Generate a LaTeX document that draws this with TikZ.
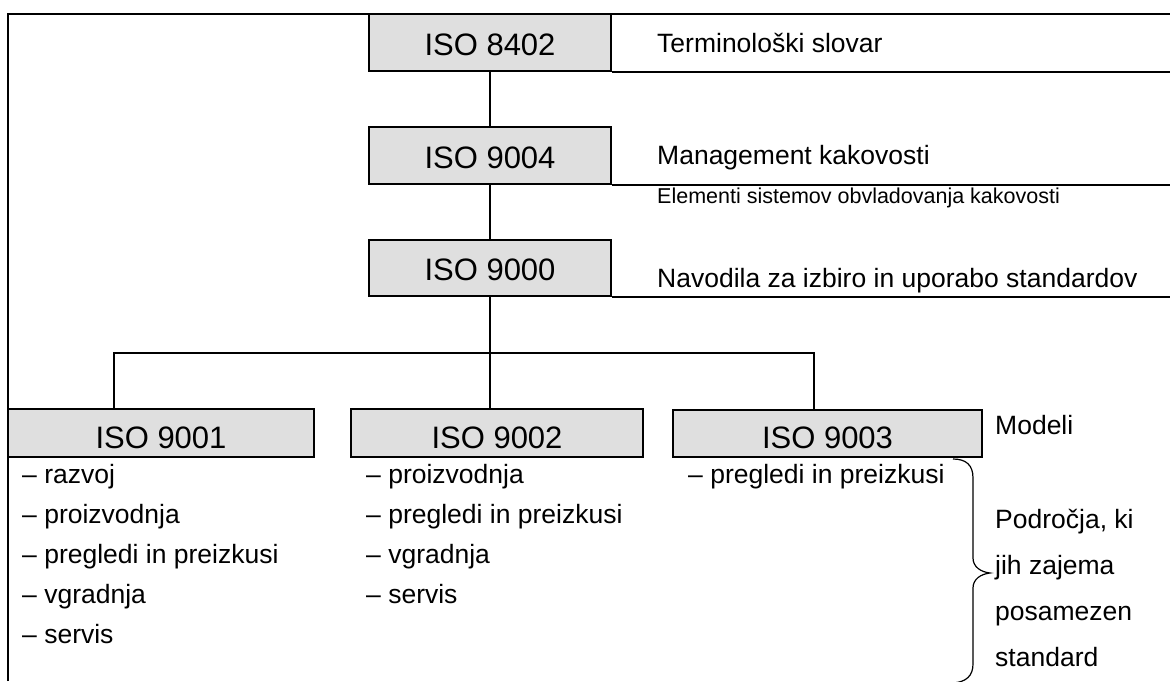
\documentclass[tikz,border=0pt]{standalone}
\usepackage{fontspec}
\setmainfont{Liberation Sans}
\definecolor{boxgray}{RGB}{223,223,223}
\tikzset{
  isobox/.style={draw, line width=1.7pt, fill=boxgray, inner sep=0pt, font=\fontsize{31}{31}\selectfont},
  topbox/.style={isobox, text height=25pt, text depth=0pt},
  lowbox/.style={isobox, text height=30pt, text depth=0pt},
  desc/.style={anchor=base west, inner sep=0pt, font=\fontsize{26.5}{30}\selectfont},
  smalldesc/.style={anchor=base west, inner sep=0pt, font=\fontsize{21.5}{24}\selectfont},
  link/.style={line width=1.5pt},
  framing/.style={line width=1.7pt},
  bracepath/.style={line width=1.2pt},
}
\begin{document}
\begin{tikzpicture}[x=1pt,y=-1pt]
\useasboundingbox (0,0) rectangle (1170,681);
\coordinate (R) at (1170,0);
% frame
\draw[framing] (8,681) -- (8,14) -- (1170,14);
% boxes
\node[topbox, minimum width=242, minimum height=57] (i8402) at (490,42.5) {ISO 8402};
\node[topbox, minimum width=242, minimum height=57] (i9004) at (490,155.5) {ISO 9004};
\node[topbox, minimum width=242, minimum height=56] (i9000) at (490,268) {ISO 9000};
\node[lowbox, minimum width=306, minimum height=48] (i9001) at (161,433) {ISO 9001};
\node[lowbox, minimum width=292, minimum height=48] (i9002) at (497,433) {ISO 9002};
\node[lowbox, minimum width=309, minimum height=47] (i9003) at (827.5,433.5) {ISO 9003};
% description lines
\draw[link] (i8402.south east) -- (i8402.south east -| R);
\draw[link] (i9004.south east) -- (i9004.south east -| R);
\draw[link] (i9000.south east) -- (i9000.south east -| R);
% descriptions
\node[desc] (t8402) at (657,52) {Terminološki slovar};
\node[desc] (t9004) at (657,164) {Management kakovosti};
\node[smalldesc] (t9004b) at (657,203) {Elementi sistemov obvladovanja kakovosti};
\node[desc] (t9000) at (657,287) {Navodila za izbiro in uporabo standardov};
\node[desc] (tmod) at (995,434) {Modeli};
% connectors
\draw[link] (i8402.south) -- (i9004.north);
\draw[link] (i9004.south) -- (i9000.north);
\draw[link] (i9000.south) -- (i9000.south |- i9002.north);
\coordinate (j1) at (114,353);
\coordinate (j3) at (814,353);
\draw[link] (j1 |- i9001.north) -- (j1) -- (j3) -- (j3 |- i9003.north);
% lists
\foreach \t [count=\i] in {razvoj, proizvodnja, pregledi in preizkusi, vgradnja, servis}
  \node[desc] (a\i) at (22,443+40*\i) {– \t};
\foreach \t [count=\i] in {proizvodnja, pregledi in preizkusi, vgradnja, servis}
  \node[desc] (b\i) at (366,443+40*\i) {– \t};
\node[desc] (c1) at (688,483) {– pregledi in preizkusi};
% brace
\draw[bracepath] (953,459) .. controls (966,459) and (973,465) .. (973,478)
  -- (973,558) .. controls (973,567) and (981,572) .. (990,573)
  .. controls (981,574) and (973,579) .. (973,588)
  -- (973,664) .. controls (973,676) and (966,682) .. (953,683);
\foreach \t [count=\i] in {Področja\upshape{,} ki, jih zajema, posamezen, standard}
  \node[desc] (p\i) at (995,481.7+46.3*\i) {\t};
\end{tikzpicture}
\end{document}
